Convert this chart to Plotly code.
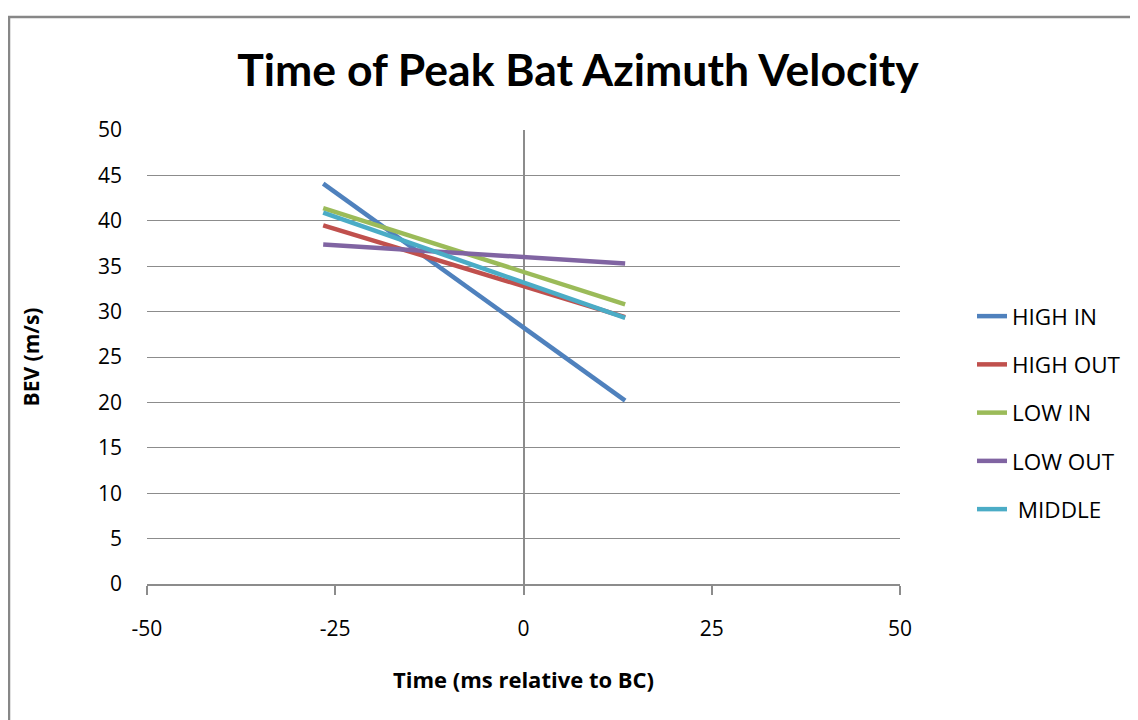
import plotly.graph_objects as go

# Data
series_names = ["HIGH IN", "HIGH OUT", "LOW IN", "LOW OUT", " MIDDLE"]
times = [-26.6, 13.5]
high_in = [44.1, 20.2]
high_out = [39.5, 29.4]
low_in = [41.4, 30.8]
low_out = [37.4, 35.3]
middle = [40.9, 29.3]
series_values = [high_in, high_out, low_in, low_out, middle]
colors = ["#4F81BD", "#C0504D", "#9BBB59", "#8064A2", "#4BACC6"]

x_ticks = [-50, -25, 0, 25, 50]
y_ticks = list(range(0, 55, 5))

FONT = "Open Sans"
TFONT = "Lato"
GRID = "#8C8C8C"

# page body has an 8px margin
OFF = 8
PW, PH = 1138, 720
W, H = PW - OFF, PH - OFF
L, R, T, B = 147 - OFF, PW - 900, 130 - OFF, PH - 584
pw = W - L - R
ph = H - T - B


def px_x(p):
    return (p - OFF - L) / pw


def px_y(p):
    return (PH - B - p) / ph


fig = go.Figure()
for i, (name, vals) in enumerate(zip(series_names, series_values)):
    fig.add_trace(go.Scatter(
        x=times, y=vals, mode="lines", name=name,
        line=dict(color=colors[i], width=4.5),
        legendgroup=str(i),
    ))

fig.update_layout(
    width=W, height=H,
    margin=dict(l=L, r=R, t=T, b=B, autoexpand=False),
    paper_bgcolor="white", plot_bgcolor="white",
    font=dict(family=FONT, size=21, color="#000000"),
    title=dict(text="<b>Time of Peak Bat Azimuth Velocity</b>",
               xref="container", yref="container",
               x=(578 - OFF) / W, xanchor="center",
               y=1 - (70 - OFF) / H, yanchor="middle",
               font=dict(size=44.5, family=TFONT, color="#000000")),
    showlegend=True,
    legend=dict(x=px_x(972), xanchor="left", y=px_y(295), yanchor="top",
                font=dict(size=22.5, family=FONT), tracegroupgap=16,
                bgcolor="rgba(0,0,0,0)"),
    xaxis=dict(
        range=[-50, 50], tickvals=x_ticks, ticktext=[str(v) for v in x_ticks],
        showgrid=False, zeroline=True, zerolinecolor=GRID, zerolinewidth=1.5,
        showline=True, linecolor=GRID, linewidth=1.5,
        ticks="outside", ticklen=9, tickcolor=GRID, tickwidth=1.5,
        ticklabelstandoff=16,
        title=dict(text="<b>Time (ms relative to BC)</b>", standoff=32,
                   font=dict(size=22, family=FONT)),
        fixedrange=True,
    ),
    yaxis=dict(
        range=[0, 50], tickvals=y_ticks, ticktext=[str(v) for v in y_ticks],
        showgrid=True, gridcolor=GRID, gridwidth=1.2, zeroline=False,
        showline=False, ticks="", ticklabelstandoff=24,
        title=dict(text="<b>BEV (m/s)</b>", standoff=52,
                   font=dict(size=21, family=FONT)),
        fixedrange=True,
    ),
    shapes=[dict(type="rect", xref="paper", yref="paper",
                 x0=px_x(9), x1=px_x(1160), y0=px_y(740), y1=px_y(17),
                 line=dict(color="#878787", width=2.5), layer="below")],
)

fig.write_html("out.html")
